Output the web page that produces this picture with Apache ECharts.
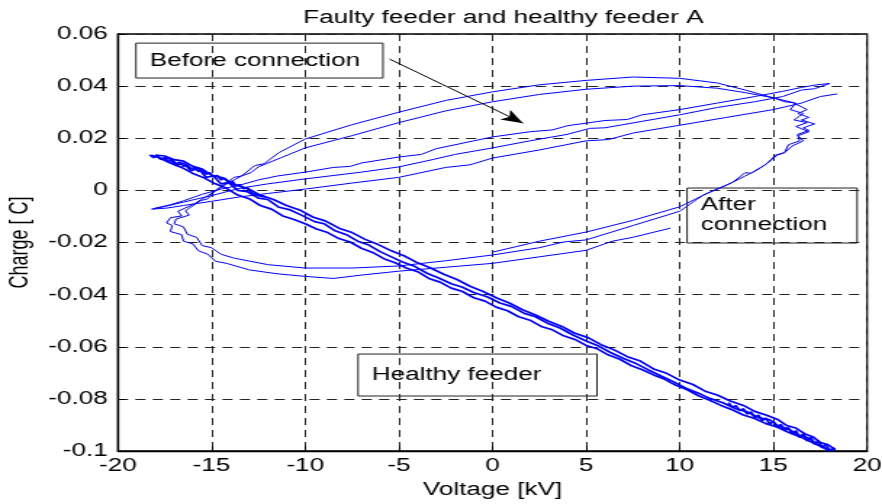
<!DOCTYPE html>
<html><head><meta charset="utf-8">
<script src="https://cdn.jsdelivr.net/npm/echarts@6/dist/echarts.min.js"></script>
<style>
html,body{margin:0;padding:0;width:882px;height:504px;overflow:hidden;background:#fff;}
#chart{width:608px;height:504px;transform:scaleX(1.4507);transform-origin:0 0;}
</style></head><body><div id="chart"></div>
<script>
// ---- data (Voltage [kV], Charge [C]) ----
const titleText = 'Faulty feeder and healthy feeder A';
const xName = 'Voltage [kV]';
const yName = 'Charge [ C]';
const xRange = [-20, 20, 5];
const yRange = [-0.1, 0.06, 0.02];

const healthyA = [[-18.2,0.0135],[-17.6,0.012],[-17.3,0.0125],[-16.9,0.0095],[-16.5,0.0105],[-16.1,0.0075],[-15.7,0.0085],[-15.3,0.005],[-14.9,0.0055],[-14.5,0.0025],[-14.1,0.003],[-13.6,0.0],[-13.1,-0.0005],[-12.5,-0.003],[-12,-0.0035],[-11.4,-0.0065],[-10.8,-0.0075],[-10.2,-0.0095],[-9.5,-0.012],[-9,-0.0128],[-8.4,-0.0155],[-7.8,-0.017],[-7.2,-0.0195],[-6.6,-0.021],[-6,-0.0235],[-5.4,-0.0255],[-4.8,-0.0275],[-4.2,-0.029],[-3.5,-0.0318],[-2.9,-0.0335],[-2.2,-0.0358],[-1.6,-0.0372],[-1,-0.0392],[-0.3,-0.0408],[0.4,-0.0432],[1,-0.0445],[1.7,-0.0472],[2.3,-0.0485],[3,-0.0512],[3.6,-0.0528],[4.3,-0.0555],[5,-0.0578],[5.6,-0.0595],[6.3,-0.0622],[7,-0.0645],[7.6,-0.0662],[8.3,-0.0688],[9,-0.0712],[9.6,-0.0732],[10.3,-0.0758],[11,-0.0778],[11.6,-0.0798],[12.3,-0.0815],[13,-0.0838],[13.6,-0.085],[14.2,-0.0872],[14.8,-0.088],[15.3,-0.0905],[15.8,-0.0915],[16.3,-0.0938],[16.8,-0.0948],[17.3,-0.0972],[17.7,-0.0985],[18.1,-0.1]];
const healthyB = [[18.3,-0.0995],[17.9,-0.0975],[17.5,-0.0968],[17.1,-0.0945],[16.7,-0.0935],[16.2,-0.0912],[15.7,-0.0902],[15.2,-0.0878],[14.6,-0.0862],[14,-0.0848],[13.4,-0.0825],[12.7,-0.0808],[12,-0.0785],[11.4,-0.0772],[10.7,-0.0745],[10,-0.0728],[9.3,-0.0702],[8.6,-0.0685],[7.9,-0.0655],[7.2,-0.0638],[6.5,-0.0612],[5.8,-0.0592],[5.1,-0.0565],[4.4,-0.0548],[3.7,-0.0522],[3,-0.0502],[2.3,-0.0478],[1.6,-0.0458],[0.9,-0.0432],[0.2,-0.0412],[-0.5,-0.0388],[-1.2,-0.0368],[-1.9,-0.0342],[-2.6,-0.0322],[-3.3,-0.0298],[-4,-0.0278],[-4.7,-0.0252],[-5.4,-0.0232],[-6.1,-0.0208],[-6.8,-0.0188],[-7.5,-0.0162],[-8.2,-0.0145],[-8.9,-0.0118],[-9.6,-0.0102],[-10.3,-0.0075],[-11,-0.0058],[-11.7,-0.0035],[-12.4,-0.0018],[-13.1,0.0008],[-13.8,0.0022],[-14.4,0.0048],[-15,0.0058],[-15.5,0.0082],[-16,0.0092],[-16.5,0.0112],[-17,0.0118],[-17.5,0.0132],[-18,0.0135]];
const healthyC = [[-17.8,0.0125],[-17.2,0.0105],[-16.6,0.0088],[-16,0.0065],[-15.4,0.0048],[-14.8,0.0025],[-14.2,0.0008],[-13.6,-0.0018],[-13,-0.0032],[-12.4,-0.0058],[-11.8,-0.0072],[-11.2,-0.0098],[-10.6,-0.0112],[-10,-0.0128],[-9.4,-0.0148],[-8.8,-0.0162],[-8.2,-0.0185],[-7.6,-0.0198],[-7,-0.0222],[-6.4,-0.0238],[-5.8,-0.0262],[-5.2,-0.0278],[-4.6,-0.0298],[-4,-0.0312],[-3.4,-0.0338],[-2.8,-0.0352],[-2.2,-0.0375],[-1.6,-0.0388],[-1,-0.0412],[-0.4,-0.0425],[0.2,-0.0448],[0.8,-0.0462],[1.4,-0.0485],[2,-0.0498],[2.6,-0.0522],[3.2,-0.0535],[3.8,-0.0558],[4.4,-0.0572],[5,-0.0595],[5.6,-0.0608],[6.2,-0.0632],[6.8,-0.0648],[7.4,-0.0672],[8,-0.0688],[8.6,-0.0708],[9.2,-0.0725],[9.8,-0.0748],[10.4,-0.0765],[11,-0.0788],[11.6,-0.0805],[12.2,-0.0825],[12.8,-0.0842],[13.4,-0.0862],[14,-0.0875],[14.6,-0.0895],[15.2,-0.0908],[15.8,-0.0928],[16.4,-0.0945],[17,-0.0965],[17.6,-0.0985],[18,-0.1]];
const healthyLeftEnd = [[-18.3,0.0136],[-18.1,0.0126],[-17.9,0.0134],[-17.7,0.0118],[-17.5,0.0126],[-17.3,0.011],[-17.1,0.0118],[-16.9,0.0102],[-16.7,0.0108],[-16.5,0.0092],[-16.3,0.0099],[-16.1,0.0082],[-15.9,0.0088],[-15.7,0.0072],[-15.5,0.0079],[-15.3,0.0062],[-15.1,0.0068],[-14.9,0.0052],[-14.7,0.0057],[-14.5,0.0041],[-14.3,0.0047],[-14.1,0.003],[-13.9,0.0035],[-13.7,0.0018],[-13.5,0.0022],[-13.3,0.0006],[-13.1,0.001],[-12.9,-0.0008],[-12.5,-0.002],[-12.1,-0.0026]];
const healthyRightEnd = [[12.6,-0.0815],[12.8,-0.0832],[13,-0.0826],[13.2,-0.0845],[13.4,-0.0838],[13.6,-0.0858],[13.8,-0.085],[14,-0.0871],[14.2,-0.0862],[14.4,-0.0884],[14.6,-0.0874],[14.8,-0.0897],[15,-0.0886],[15.2,-0.091],[15.4,-0.0898],[15.6,-0.0922],[15.8,-0.091],[16,-0.0935],[16.2,-0.0922],[16.4,-0.0948],[16.6,-0.0934],[16.8,-0.0961],[17,-0.0947],[17.2,-0.0974],[17.4,-0.096],[17.6,-0.0987],[17.8,-0.0974],[18,-0.0998],[18.2,-0.0988],[18.3,-0.1]];

const beforeLoop = [[-18.1,-0.007],[-17.2,-0.0055],[-16.5,-0.004],[-15.5,-0.0015],[-14.5,0.0005],[-13.5,0.002],[-12.5,0.004],[-11.5,0.0055],[-10,0.007],[-8.5,0.0088],[-7.6,0.0092],[-7,0.0105],[-5,0.0128],[-3.8,0.0138],[-3,0.016],[-1,0.019],[0,0.0205],[2,0.0225],[3.2,0.0232],[4,0.0248],[6,0.0268],[7.2,0.0272],[8,0.029],[10,0.031],[12,0.0335],[14,0.036],[15.5,0.038],[16.5,0.0395],[17.3,0.0405],[18,0.041],[17.2,0.039],[16.5,0.0385],[15.5,0.036],[14,0.034],[12,0.0318],[10,0.029],[8,0.0265],[6,0.024],[5.2,0.0238],[4,0.0215],[2,0.019],[0,0.0163],[-2,0.0138],[-3.2,0.0118],[-5,0.009],[-7,0.007],[-10,0.0044],[-12,0.0025],[-13.5,0.0008],[-15,-0.002],[-16.5,-0.0045],[-17.5,-0.0062],[-18.2,-0.0072],[-17.4,-0.0068],[-16.5,-0.0058],[-15,-0.0042],[-13.5,-0.0025],[-12,-0.0012],[-10,0.0005],[-7.5,0.0028],[-5,0.005],[-2.5,0.0088],[-1.2,0.0098],[0,0.0124],[2.5,0.0155],[5,0.019],[6.2,0.0195],[7.5,0.022],[10,0.025],[12.5,0.028],[15,0.031],[16.5,0.0335],[17.5,0.036],[18.4,0.037]];

const afterLoop = [[9.5,-0.0145],[7.5,-0.018],[6.4,-0.0195],[5,-0.023],[2.5,-0.0255],[0,-0.028],[-2.5,-0.0295],[-5,-0.031],[-7,-0.0325],[-8.5,-0.0338],[-10,-0.033],[-11.5,-0.032],[-13,-0.0305],[-14.2,-0.028],[-14.8,-0.0272],[-15.2,-0.0245],[-15.7,-0.0232],[-16,-0.0205],[-16.5,-0.0195],[-16.6,-0.017],[-17.2,-0.0158],[-17.1,-0.0135],[-17.4,-0.0125],[-17.2,-0.0105],[-16.6,-0.0098],[-16.8,-0.008],[-16,-0.0055],[-15.2,-0.002],[-14.3,0.002],[-13.4,0.0055],[-12.9,0.0068],[-12.5,0.009],[-11.3,0.0125],[-10,0.0163],[-7.5,0.021],[-5,0.026],[-2.5,0.0305],[0,0.034],[2.5,0.0368],[5,0.0388],[7.5,0.04],[10,0.0402],[12,0.0392],[13.5,0.0375],[15,0.0355],[15.6,0.034],[16.2,0.0335],[15.9,0.031],[16.6,0.0295],[16.1,0.027],[16.8,0.026],[16.2,0.0245],[16.9,0.0225],[16.3,0.021],[16.6,0.019],[16,0.017],[15.6,0.0145],[15.2,0.0135],[14.5,0.0095],[14.3,0.0085],[13.5,0.0055],[12.5,0.002],[11.2,-0.002],[10,-0.008],[7.5,-0.0135],[5,-0.019],[3.8,-0.0198],[2.5,-0.022],[0,-0.0248],[-2.5,-0.027],[-5,-0.029],[-7.5,-0.0298],[-10,-0.0298],[-12,-0.0285],[-13.8,-0.026],[-14.5,-0.0245],[-15,-0.022],[-15.5,-0.0212],[-15.8,-0.018],[-16.3,-0.0168],[-16.5,-0.014],[-17,-0.0128],[-16.9,-0.011],[-16.2,-0.0095],[-16.4,-0.0078],[-15.6,-0.004],[-15.2,-0.0032],[-14.8,0.0],[-13.8,0.005],[-13.4,0.0055],[-12.7,0.0095],[-12.2,0.0102],[-11.4,0.0145],[-10,0.0197],[-7.5,0.0252],[-5,0.03],[-2.5,0.0345],[0,0.0378],[2.5,0.0405],[5,0.0422],[7.5,0.0435],[10,0.043],[12,0.0412],[13.5,0.0385],[15,0.0355],[16,0.0338],[16.8,0.031],[16.3,0.0295],[16.9,0.028],[16.5,0.027],[17.2,0.0255],[16.6,0.024],[16.9,0.023],[16.3,0.0215],[16.4,0.019],[15.8,0.0175],[15.6,0.0145],[15.1,0.0135],[14.7,0.0105],[13.8,0.0065],[13.5,0.0068],[12.8,0.003],[11.5,-0.001],[10,-0.0063],[7.5,-0.0115],[5,-0.016],[2.5,-0.0195],[0,-0.0237]];

// annotation texts and their anchors in data units
const noteTexts = ['Before connection', 'After\nconnection', 'Healthy feeder'];
const noteCorners = [[[-19.04,0.0565],[-5.85,0.0431]],[[10.39,0.0009],[19.47,-0.0202]],[[-7.18,-0.0628],[5.58,-0.0789]]];
const arrowEnds = [[-5.5,0.0504],[1.63,0.0258]];

// ---- chart ----
const FONT = '"Liberation Sans", Arial, sans-serif';
const chart = echarts.init(document.getElementById('chart'), null, {renderer:'canvas'});
const lineSeries = (name, data, w) => ({
  name, type:'line', data, showSymbol:false, symbol:'none', smooth:false,
  lineStyle:{color:'#0000ff', width:w}, itemStyle:{color:'#0000ff'}, silent:true, z:3
});
const sHealthyA = lineSeries('healthyA', healthyA, 1.7);
sHealthyA.markArea = {
  silent:true,
  itemStyle:{color:'rgba(0,0,0,0)', borderColor:'#222', borderWidth:1},
  label:{show:true, position:'insideLeft', distance:10, color:'#000', fontSize:18, fontFamily:FONT, lineHeight:20, align:'left'},
  data: noteCorners.map((c,i)=>[{coord:c[0], name:noteTexts[i]},{coord:c[1]}])
};
const sBefore = lineSeries('before', beforeLoop, 1);
sBefore.markLine = {
  silent:true, symbol:['none','arrow'], symbolSize:[9,15],
  lineStyle:{color:'#000', width:1, type:'solid'}, label:{show:false},
  data:[[{coord:arrowEnds[0]},{coord:arrowEnds[1]}]]
};
chart.setOption({
  animation:false,
  backgroundColor:'#fff',
  title:{text:titleText, left:342, top:4, textAlign:'center',
    textStyle:{fontFamily:FONT, fontSize:18, fontWeight:'normal', color:'#000'}},
  grid:{left:81.3, right:10.35, top:34, bottom:53, containLabel:false, outerBoundsMode:'none',
    show:true, borderColor:'#000', borderWidth:1.3, backgroundColor:'#fff'},
  xAxis:{type:'value', min:xRange[0], max:xRange[1], interval:xRange[2],
    name:xName, nameLocation:'middle', nameGap:30, nameMoveOverlap:false,
    nameTextStyle:{fontFamily:FONT, fontSize:18, color:'#000'},
    axisLine:{show:true, onZero:false, lineStyle:{color:'#000', width:1.3}},
    axisTick:{show:true, inside:true, length:5, lineStyle:{color:'#000'}},
    axisLabel:{fontFamily:FONT, fontSize:18, color:'#000', margin:6},
    splitLine:{show:true, lineStyle:{color:'#222', type:[7,5], width:1}}},
  yAxis:{type:'value', min:yRange[0], max:yRange[1], interval:yRange[2],
    name:yName, nameLocation:'middle', nameGap:58, nameRotate:90, nameMoveOverlap:false,
    nameTextStyle:{fontFamily:FONT, fontSize:18, color:'#000'},
    axisLine:{show:true, onZero:false, lineStyle:{color:'#000', width:1.3}},
    axisTick:{show:true, inside:true, length:5, lineStyle:{color:'#000'}},
    axisLabel:{fontFamily:FONT, fontSize:18, color:'#000', margin:7,
      formatter:v=>String(+v.toFixed(2))},
    splitLine:{show:true, lineStyle:{color:'#222', type:[7,5], width:1}}},
  series:[
    sHealthyA,
    lineSeries('healthyB', healthyB, 1.7),
    lineSeries('healthyC', healthyC, 1.7),
    lineSeries('healthyLeftEnd', healthyLeftEnd, 1.7),
    lineSeries('healthyRightEnd', healthyRightEnd, 1.7),
    sBefore,
    lineSeries('after', afterLoop, 1)
  ]
});
</script></body></html>
